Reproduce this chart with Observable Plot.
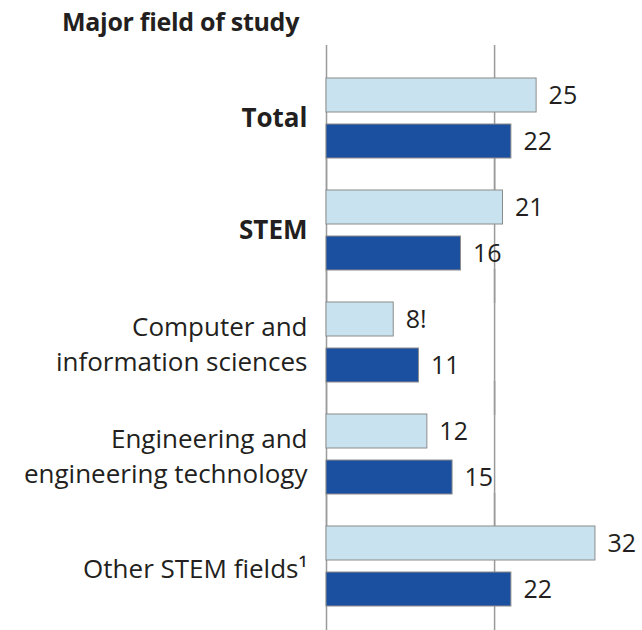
<!DOCTYPE html>
<html>
<head>
<meta charset="utf-8">
<script src="https://cdn.jsdelivr.net/npm/d3@7"></script>
<script src="https://cdn.jsdelivr.net/npm/@observablehq/plot@0.6"></script>
<style>
  body { margin: 0; background: #fff; font-family: "Open Sans", sans-serif; }
  #title { height: 45px; position: relative; }
  #title span { position: absolute; left: 62px; top: 4px; font-size: 25px; font-weight: bold; color: #231f20; letter-spacing: -0.3px; }
  #chart svg { display: block; }
</style>
</head>
<body>
<div id="title"><span>Major field of study</span></div>
<div id="chart"></div>
<script>
const categories = ["Total", "STEM", "Computer and\ninformation sciences", "Engineering and\nengineering technology", "Other STEM fields¹"];
const boldCategories = ["Total", "STEM"];
const series = ["A", "B"];
const valuesA = [25, 21, 8, 12, 32];
const valuesB = [22, 16, 11, 15, 22];
const labelsA = ["25", "21", "8!", "12", "32"];
const labelsB = ["22", "16", "11", "15", "22"];
const gridTicks = [0, 20];

const rows = [];
categories.forEach((c, i) => {
  rows.push({cat: c, series: "A", value: valuesA[i], label: labelsA[i]});
  rows.push({cat: c, series: "B", value: valuesB[i], label: labelsB[i]});
});
const catRows = categories.map(c => ({cat: c, bold: boldCategories.includes(c)}));
const gridRows = [];
categories.forEach(c => gridTicks.forEach(t => gridRows.push({cat: c, tick: t})));

const chart = Plot.plot({
  width: 642,
  height: 585,
  marginLeft: 326,
  marginRight: 0,
  marginTop: 32,
  marginBottom: 23,
  x: {domain: [0, 37.6], axis: null},
  y: {domain: series, axis: null, paddingInner: 0.255, paddingOuter: 0},
  fy: {domain: categories, axis: null, paddingInner: 0.268, paddingOuter: 0},
  color: {domain: series, range: ["#c8e3ef", "#1b4f9f"]},
  style: {fontFamily: "Open Sans, sans-serif"},
  marks: [
    Plot.ruleX(gridRows, {x: "tick", fy: "cat", stroke: "#9a9a9a", strokeWidth: 1.5, insetTop: -32, insetBottom: -32}),
    Plot.barX(rows, {x: "value", y: "series", fy: "cat", fill: "series", stroke: "#8c8c8c", strokeWidth: 1}),
    Plot.text(rows, {x: "value", y: "series", fy: "cat", text: "label", dx: 12, textAnchor: "start", fontSize: 25, fill: "#231f20"}),
    Plot.text(catRows.filter(d => d.bold), {fy: "cat", text: "cat", frameAnchor: "left", dx: -19, textAnchor: "end", fontSize: 26, fontWeight: "bold", fill: "#231f20"}),
    Plot.text(catRows.filter(d => !d.bold), {fy: "cat", text: "cat", frameAnchor: "left", dx: -19, textAnchor: "end", fontSize: 26, lineHeight: 1.35, fill: "#231f20"})
  ]
});
document.getElementById("chart").appendChild(chart);
</script>
</body>
</html>
